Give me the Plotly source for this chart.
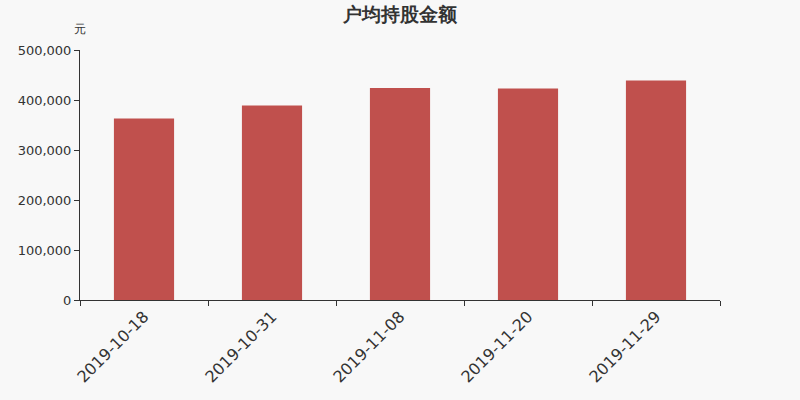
import plotly.graph_objects as go

dates = ["2019-10-18", "2019-10-31", "2019-11-08", "2019-11-20", "2019-11-29"]
amounts = [363000, 389000, 424000, 423000, 439000]

fig = go.Figure()
fig.add_trace(go.Bar(x=dates, y=amounts, marker_color="#c0504d",
                     marker_line_width=0, width=0.47))

axis_font = dict(family="DejaVu Sans", size=13, color="#333333")

fig.update_layout(
    width=800, height=400,
    margin=dict(l=80, r=80, t=50, b=100),
    paper_bgcolor="#f8f8f8", plot_bgcolor="#f8f8f8",
    showlegend=False,
    title=dict(text="<b>户均持股金额</b>", x=0.5, xanchor="center", y=0.965, yanchor="middle",
               font=dict(family="DejaVu Sans", size=19, color="#333333")),
    xaxis=dict(type="category", showline=True, linecolor="#333333", linewidth=1,
               ticks="outside", tickson="boundaries", ticklen=5, tickcolor="#333333",
               tickangle=-45, tickfont=dict(family="DejaVu Sans", size=16, color="#333333"),
               showgrid=False),
    yaxis=dict(range=[0, 500000], dtick=100000, tickformat=",d", showline=True,
               linecolor="#333333", linewidth=1, ticks="outside", ticklen=5,
               tickcolor="#333333", tickfont=axis_font, showgrid=False, zeroline=False),
)

fig.add_annotation(text="元", xref="paper", yref="paper", x=0, y=1.0, yshift=21,
                   showarrow=False, xanchor="center", yanchor="middle",
                   font=dict(family="DejaVu Sans", size=12, color="#333333"))

fig.write_html("out.html", config={"displayModeBar": False},
               post_script="document.body.style.margin='0';"
                           "document.body.style.background='#f8f8f8';")
